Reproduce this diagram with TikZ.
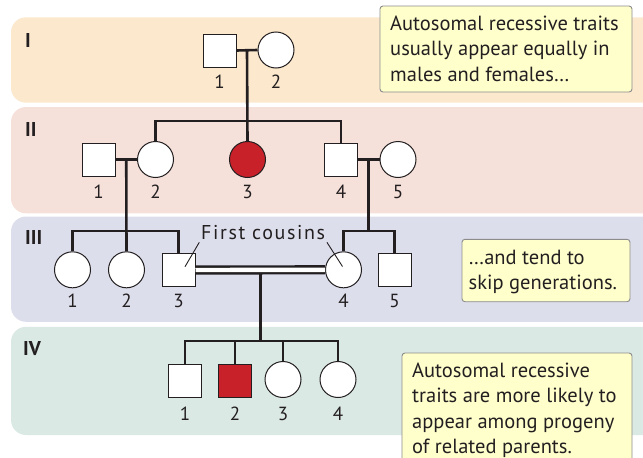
\documentclass[tikz,border=0pt]{standalone}
\usepackage{fontspec}
\setmainfont{PT Sans}
\usetikzlibrary{calc}
\definecolor{bandI}{RGB}{251,232,205}
\definecolor{bandII}{RGB}{246,225,218}
\definecolor{bandIII}{RGB}{221,222,236}
\definecolor{bandIV}{RGB}{219,233,229}
\definecolor{notefill}{RGB}{255,255,204}
\definecolor{noteborder}{RGB}{140,140,140}
\definecolor{affected}{RGB}{200,33,42}
\definecolor{ink}{RGB}{35,31,32}
\begin{document}
\begin{tikzpicture}[x=1pt,y=-1pt,
  band/.style={rounded corners=15pt},
  male/.style={rectangle, draw=ink, line width=1pt, fill=white, minimum size=33pt, inner sep=0pt},
  female/.style={circle, draw=ink, line width=1pt, fill=white, minimum size=36pt, inner sep=0pt},
  aff/.style={fill=affected},
  conn/.style={draw=ink, line width=2.6pt},
  pointer/.style={draw=ink, line width=0.9pt},
  lbl/.style={text=ink, font=\fontsize{19}{19}\selectfont, inner sep=0pt, anchor=base},
  gen/.style={text=ink, font=\bfseries\fontsize{20}{20}\selectfont, anchor=base west, inner sep=0pt},
  note/.style={draw=noteborder, fill=notefill, line width=0.9pt, rounded corners=3pt},
  notetext/.style={text=ink, font=\fontsize{20.5}{25.5}\selectfont, align=left, anchor=north west, inner sep=0pt}
]
\useasboundingbox (0,0) rectangle (643,458);
\clip (0,0) rectangle (643,458);
% generation bands
\fill[band, bandI] (11,17.3) rectangle (680,102.7);
\fill[band, bandII] (11,107) rectangle (680,213.3);
\fill[band, bandIII] (11,216.5) rectangle (680,321.8);
\fill[band, bandIV] (11,326.8) rectangle (680,435);
\node[gen] (gI) at (25,47) {I};
\node[gen] (gII) at (25,136) {II};
\node[gen] (gIII) at (25,244) {III};
\node[gen] (gIV) at (23,355) {IV};
% generation I
\node[male] (i1) at (219.5,50.5) {};
\node[female] (i2) at (276,50) {};
% generation II
\node[male] (ii1) at (98.5,159.5) {};
\node[female] (ii2) at (155.5,159.5) {};
\node[female, aff] (ii3) at (247.5,159.5) {};
\node[male] (ii4) at (341,159.5) {};
\node[female] (ii5) at (398,159.5) {};
% generation III
\node[female] (iii1) at (72.5,269.8) {};
\node[female] (iii2) at (126.5,269.8) {};
\node[male] (iii3) at (178.5,270) {};
\node[female] (iii4) at (343.5,269.8) {};
\node[male] (iii5) at (394.5,270) {};
% generation IV
\node[male] (iv1) at (185,380.5) {};
\node[male, aff] (iv2) at (235,380.5) {};
\node[female] (iv3) at (283,379.5) {};
\node[female] (iv4) at (338,379.5) {};
% labels
\foreach \n/\t in {i1/1,i2/2}{\node[lbl] (l\n) at (\n |- 0,88.3) {\t};}
\foreach \n/\t in {ii1/1,ii2/2,ii3/3,ii4/4,ii5/5}{\node[lbl] (l\n) at (\n |- 0,198) {\t};}
\foreach \n/\t in {iii1/1,iii2/2,iii3/3,iii4/4,iii5/5}{\node[lbl] (l\n) at (\n |- 0,307.7) {\t};}
\foreach \n/\t in {iv1/1,iv2/2,iv3/3,iv4/4}{\node[lbl] (l\n) at (\n |- 0,420) {\t};}
% connectors generation I -> II
\coordinate (m1) at ($(i1.east)!0.5!(i2.west)$);
\draw[conn] (i1.east) -- (i2.west);
\draw[conn] (ii2.north) |- (m1 |- 0,121) -| (ii4.north);
\draw[conn] (m1) -- (ii3.north);
% generation II -> III
\coordinate (m2) at ($(ii1.east)!0.5!(ii2.west)$);
\draw[conn] (ii1.east) -- (ii2.west);
\draw[conn] (iii1.north) |- (m2 |- 0,231) -| (iii3.north);
\draw[conn] (m2) -- (iii2.north);
\coordinate (m3) at ($(ii4.east)!0.5!(ii5.west)$);
\draw[conn] (ii4.east) -- (ii5.west);
\draw[conn] (iii4.north) |- (m3 |- 0,231) -| (iii5.north);
\draw[conn] (m3) -- (m3 |- 0,231);
% generation III -> IV
\coordinate (m4) at ($(iii3.east)!0.5!(iii4.west)$);
\draw[conn] (m4) -- (m4 |- 0,341);
\draw[conn] (iv1.north) |- (m4 |- 0,341) -| (iv4.north);
\draw[conn] (iv2.north) -- (iv2.north |- 0,341);
\draw[conn] (iv3.north) -- (iv3.north |- 0,341);
\draw[conn, line width=2.4pt, double=white, double distance=4.4pt] (iii3.east) -- (iii4.west);
% first cousins
\node[text=ink, font=\fontsize{20}{20}\selectfont\addfontfeatures{LetterSpace=8}, anchor=base west, inner sep=0pt] (fc) at (201,239) {First cousins};
\draw[pointer] ($(fc.base west)+(-1.7,3.3)$) -- ($(iii3.center)+(6.5,-3.3)$);
\draw[pointer] ($(fc.base east)+(1.7,3.3)$) -- ($(iii4.center)+(-1,-3.3)$);
% callouts
\draw[note] (380,6) rectangle (632,92);
\node[notetext] (n1) at (390,15.5) {Autosomal recessive traits\\usually appear equally in\\males and females\ldots};
\draw[note] (462,239.3) rectangle (630,301.7);
\node[notetext] (n2) at (468.5,249.5) {\ldots and tend to\\skip generations.};
\draw[note] (402,353) rectangle (632,490);
\node[notetext] (n3) at (412,362.5) {Autosomal recessive\\traits are more likely to\\appear among progeny\\of related parents.};
\end{tikzpicture}
\end{document}
